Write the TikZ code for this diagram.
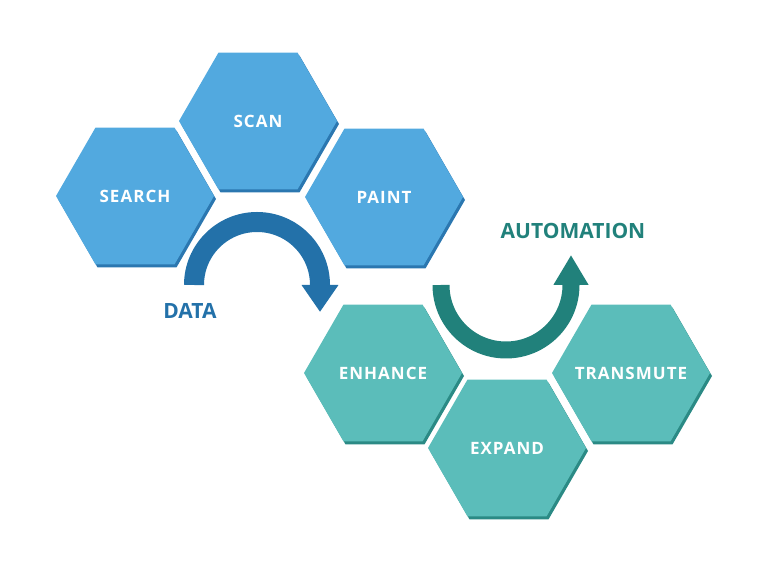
\documentclass[tikz,border=0pt]{standalone}
\usepackage{fontspec}
\setmainfont{Open Sans}
\newfontfamily\hexfont{Open Sans}[LetterSpace=6]
\usetikzlibrary{shapes.geometric,shadows,arrows.meta}
\definecolor{hexblue}{HTML}{52A9DF}
\definecolor{hexbluedark}{HTML}{2B77B0}
\definecolor{arrowblue}{HTML}{2371A9}
\definecolor{hexteal}{HTML}{5BBDBA}
\definecolor{hextealdark}{HTML}{2B8A85}
\definecolor{arrowteal}{HTML}{21817B}

\begin{document}
\begin{tikzpicture}[x=1pt, y=1pt,
    hexagon/.style ={regular polygon, regular polygon sides=6, minimum size=158pt,
      inner sep=0pt},
    hextext/.style ={text=white, font=\hexfont\bfseries\fontsize{17}{20}\selectfont},
    datahex/.style ={hexagon, fill=hexblue, label={[hextext]center:#1},
      drop shadow={shadow xshift=2pt, shadow yshift=-3pt, fill=hexbluedark, opacity=1}},
    autohex/.style ={hexagon, fill=hexteal, label={[hextext]center:#1},
      drop shadow={shadow xshift=2pt, shadow yshift=-3pt, fill=hextealdark, opacity=1}},
    caption/.style ={font=\bfseries\fontsize{21}{24}\selectfont}]
   \useasboundingbox (0,0) rectangle (768,569);
   \node[datahex=SEARCH] (search) at (135,373) {};
   \node[datahex=SCAN] (scan) at (258,448) {};
   \node[datahex=PAINT] (paint) at (384,372) {};
   \node[autohex=ENHANCE] (enhance) at (383,196) {};
   \node[autohex=EXPAND] (expand) at (507,121) {};
   \node[autohex=TRANSMUTE] (transmute) at (631,196) {};
   \coordinate (datastart) at (194,284);
   \coordinate (autostart) at (441,284);
   \draw[arrowblue, line width=20pt, -{Triangle[width=35pt, length=27pt]}]
     (datastart) arc[start angle=180, end angle=0, radius=63] -- ++(0,-27);
   \draw[arrowteal, line width=17pt, -{Triangle[width=33pt, length=30pt]}]
     (autostart) arc[start angle=180, end angle=360, radius=65] -- ++(0,30);
   \node[caption, text=arrowblue] (data) at (190,258) {DATA};
   \node[caption, text=arrowteal] (automation) at (573,338) {AUTOMATION};
 \end{tikzpicture}
\end{document}
